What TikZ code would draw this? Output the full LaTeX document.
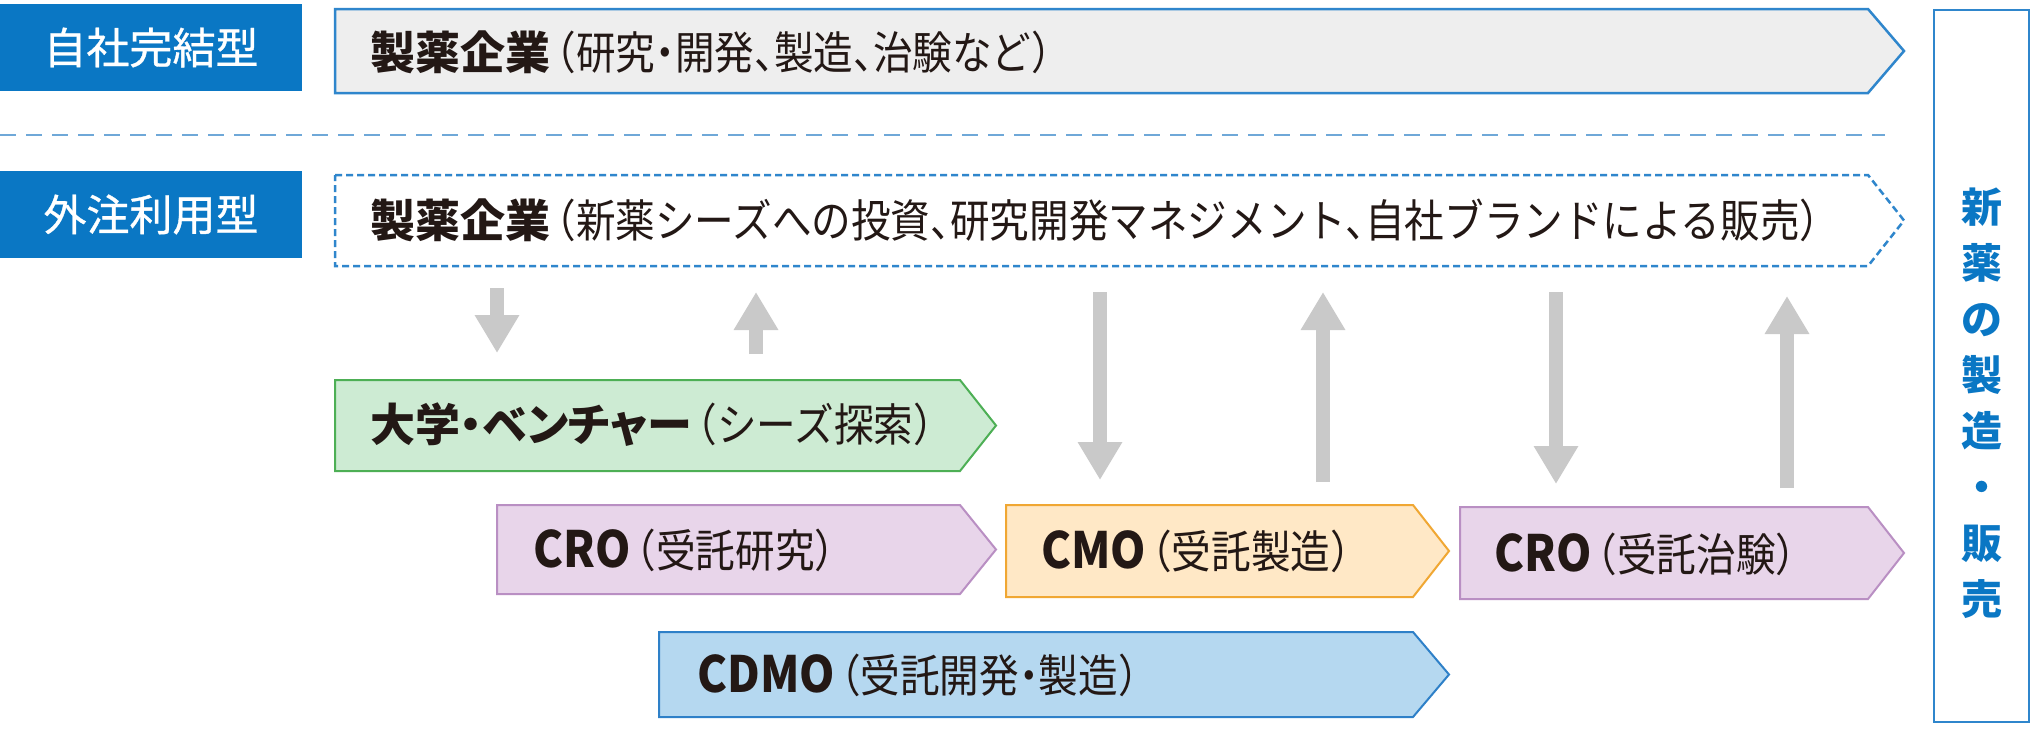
\documentclass[tikz,border=0pt]{standalone}
\usepackage{fontspec}
\usetikzlibrary{arrows.meta}
\newfontfamily\jp{Noto Sans CJK JP}[RawFeature=+palt]
\newfontfamily\jplab{Noto Sans CJK JP}[FakeBold=0.8]
\newfontfamily\jpc{Noto Sans CJK JP}[RawFeature=+halt,FakeStretch=0.88]
\newfontfamily\jpl{Noto Sans CJK JP}[FakeStretch=0.9]
\definecolor{labblue}{HTML}{0A77C4}
\definecolor{lineblue}{HTML}{2F86CC}
\definecolor{sepblue}{HTML}{6FA8D8}
\definecolor{greyfill}{HTML}{EEEEEE}
\definecolor{arrgrey}{HTML}{C9C9C9}
\definecolor{greenfill}{HTML}{CDEBD3}
\definecolor{greenline}{HTML}{4DAF55}
\definecolor{purfill}{HTML}{E8D5EA}
\definecolor{purline}{HTML}{B98FC3}
\definecolor{orfill}{HTML}{FFE8C6}
\definecolor{orline}{HTML}{F0A733}
\definecolor{cdfill}{HTML}{B5D8F0}
\definecolor{cdline}{HTML}{2E80C8}
\definecolor{txt}{HTML}{231815}
\newcommand\chevron[5]{\draw[#1] (#2,#4) -- ({#3-36},#4) -- (#3,{(#4+#5)/2}) -- ({#3-36},#5) -- (#2,#5) -- cycle;}
\newcommand\bigjp{\jp\bfseries\fontsize{45}{45}\selectfont}
\newcommand\smalljp[1]{\hspace{6pt}{\jpc\mdseries\fontsize{45}{45}\selectfont #1}}
\newcommand\latin[1]{{\jpl\bfseries\fontsize{50}{50}\selectfont #1}}
\tikzset{
  lab/.style={fill=labblue, text=white, minimum width=302pt, minimum height=87pt, inner sep=0pt, font=\jplab\fontsize{43}{43}\selectfont},
  lbl/.style={anchor=west, inner sep=0pt, text=txt, font=\bigjp},
  garrow/.style={draw=arrgrey, line width=14pt, -{Triangle[length=38pt,width=42pt]}},
}
\begin{document}
\begin{tikzpicture}[x=1pt,y=-1pt]
\useasboundingbox (0,0) rectangle (2034,728);
\fill[white] (0,0) rectangle (2034,728);
% left labels
\node[lab] (l1) at (151,47.5) {自社完結型};
\node[lab] (l2) at (151,214.5) {外注利用型};
% separator
\coordinate (s1) at (0,135);
\coordinate (s2) at (1885,135);
\draw[sepblue, line width=2pt, dash pattern=on 16pt off 10pt] (s1) -- (s2);
% top arrows
\chevron{fill=greyfill, draw=lineblue, line width=2.5pt}{335}{1904}{9}{93}
\chevron{fill=white, draw=lineblue, line width=2.5pt, dash pattern=on 7pt off 4pt}{335}{1904}{175}{266}
% green / purple / orange / blue chevrons
\chevron{fill=greenfill, draw=greenline, line width=2pt}{335}{996}{380}{471}
\chevron{fill=purfill, draw=purline, line width=2pt}{497}{996}{505}{594}
\chevron{fill=orfill, draw=orline, line width=2pt}{1006}{1449}{505}{597}
\chevron{fill=purfill, draw=purline, line width=2pt}{1460}{1904}{507}{599}
\chevron{fill=cdfill, draw=cdline, line width=2pt}{659}{1449}{632}{717}
% right box
\node[draw=lineblue, line width=2.5pt, minimum width=95pt, minimum height=712pt, inner sep=0pt] (rb) at (1981.5,366) {};
\node[text=labblue, align=center, inner sep=0pt, font=\jp\bfseries\fontsize{41}{56}\selectfont] (rt) at (1981.5,403) {新\\薬\\の\\製\\造\\・\\販\\売};
% texts
\node[lbl] (t1) at (370,52) {製薬企業\smalljp{（研究・開発、製造、治験など）}};
\node[lbl] (t2) at (370,220) {製薬企業\smalljp{（新薬シーズへの投資、研究開発マネジメント、自社ブランドによる販売）}};
\node[lbl] (t3) at (370,425) {大学・ベンチャー\smalljp{（シーズ探索）}};
\node[lbl] (t4) at (533,550) {\latin{CRO}\smalljp{（受託研究）}};
\node[lbl] (t5) at (1041,551) {\latin{CMO}\smalljp{（受託製造）}};
\node[lbl] (t6) at (1494,554) {\latin{CRO}\smalljp{（受託治験）}};
\node[lbl] (t7) at (697,675) {\latin{CDMO}\smalljp{（受託開発・製造）}};
% grey arrows
\coordinate (a1s) at (497,288); \coordinate (a1e) at (497,353);
\coordinate (a2s) at (756,354); \coordinate (a2e) at (756,292);
\coordinate (a3s) at (1100,292); \coordinate (a3e) at (1100,480);
\coordinate (a4s) at (1323,482); \coordinate (a4e) at (1323,292);
\coordinate (a5s) at (1556,292); \coordinate (a5e) at (1556,484);
\coordinate (a6s) at (1787,488); \coordinate (a6e) at (1787,296);
\foreach \i in {1,...,6} {\draw[garrow] (a\i s) -- (a\i e);}
\end{tikzpicture}
\end{document}
